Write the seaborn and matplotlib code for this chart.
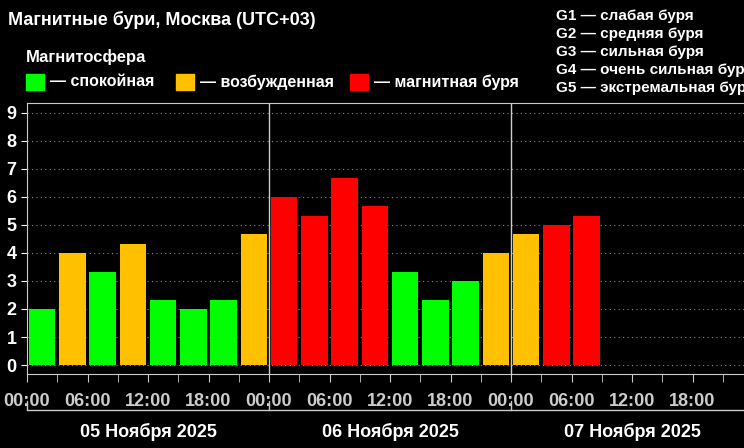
import numpy as np
import pandas as pd
import seaborn as sns
import matplotlib.pyplot as plt

# Kp-индекс по 3-часовым интервалам
kp_values = [2, 4, 3.33, 4.33, 2.33, 2, 2.33, 4.67,
             6, 5.33, 6.67, 5.67, 3.33, 2.33, 3, 4,
             4.67, 5, 5.33]
days = ['05 Ноября 2025', '06 Ноября 2025', '07 Ноября 2025']
hour_labels = ['00:00', '06:00', '12:00', '18:00']
g_levels = ['G1 — слабая буря', 'G2 — средняя буря', 'G3 — сильная буря',
            'G4 — очень сильная буря', 'G5 — экстремальная буря']
state_names = ['— спокойная', '— возбужденная', '— магнитная буря']
state_colors = ['#00ff00', '#ffc000', '#ff0000']

n_slots = 24


def state(v):
    if v < 4:
        return 0
    if v < 5:
        return 1
    return 2


df = pd.DataFrame({'slot': range(len(kp_values)), 'kp': kp_values,
                   'state': [state(v) for v in kp_values]})

sns.set_style('dark')
plt.rcParams['font.family'] = ['Liberation Sans', 'DejaVu Sans']
plt.rcParams['font.weight'] = 'bold'

fig = plt.figure(figsize=(7.44, 4.48), dpi=100, facecolor='black')
ax = fig.add_axes([27 / 744, 1 - 374 / 448, 726 / 744, 271 / 448])
ax.set_facecolor('black')

sns.barplot(data=df, x='slot', y='kp', hue='state', order=list(range(n_slots)),
            palette=dict(enumerate(state_colors)), dodge=False, width=0.88,
            saturation=1, legend=False, linewidth=0, ax=ax)

ax.set_xlim(-0.5, n_slots - 0.5)
ax.set_ylim(-0.32, 9.35)
ax.set_yticks(range(10))
ax.yaxis.grid(True, color='#888888', linestyle=(0, (1, 3)), linewidth=0.8)
ax.xaxis.grid(False)
ax.set_axisbelow(True)
ax.tick_params(axis='y', colors='white', labelsize=13, length=4, direction='out', left=True)
for t in ax.get_yticklabels():
    t.set_fontweight('bold')

major = [-0.5 + 2 * i for i in range(12)]
ax.set_xticks(major)
ax.set_xticklabels([hour_labels[i % 4] for i in range(12)], color='white',
                   fontsize=13, fontweight='bold')
ax.set_xticks([-0.5 + i for i in range(n_slots)], minor=True)
ax.tick_params(axis='x', which='both', colors='#cccccc', length=6, bottom=True, pad=8)
ax.set_xlabel('')
ax.set_ylabel('')

for s in ['left', 'top', 'bottom']:
    ax.spines[s].set_color('#cccccc')
    ax.spines[s].set_visible(True)
ax.spines['right'].set_visible(False)
for d in range(1, 3):
    ax.axvline(-0.5 + 8 * d, color='#cccccc', linewidth=1)

# подписи дней со скобками
trans = ax.get_xaxis_transform()
for d, name in enumerate(days):
    x0 = -0.5 + 8 * d
    ax.plot([x0, x0 + 8], [-0.133, -0.133], color='#cccccc', lw=1, transform=trans, clip_on=False)
    ax.plot([x0, x0], [-0.133, -0.1], color='#cccccc', lw=1, transform=trans, clip_on=False)
    ax.text(x0 + 4, -0.214, name, color='white', fontsize=13, fontweight='bold',
            ha='center', va='center', transform=trans)

fig.text(8 / 744, 1 - 20 / 448, 'Магнитные бури, Москва (UTC+03)', color='white',
         fontsize=13, fontweight='bold', va='center')
fig.text(26 / 744, 1 - 57 / 448, 'Магнитосфера', color='white',
         fontsize=12, fontweight='bold', va='center')
for x, name, c in zip([26, 176, 350], state_names, state_colors):
    fig.patches.append(plt.Rectangle((x / 744, 1 - 90 / 448), 18 / 744, 16 / 448,
                                     color=c, transform=fig.transFigure))
    fig.text((x + 24) / 744, 1 - 82 / 448, name, color='white', fontsize=11.5,
             fontweight='bold', va='center')
for i, g in enumerate(g_levels):
    fig.text(556 / 744, 1 - (16 + 18 * i) / 448, g, color='white', fontsize=11,
             fontweight='bold', va='center')

fig.savefig('out.png', dpi=100, facecolor='black')
